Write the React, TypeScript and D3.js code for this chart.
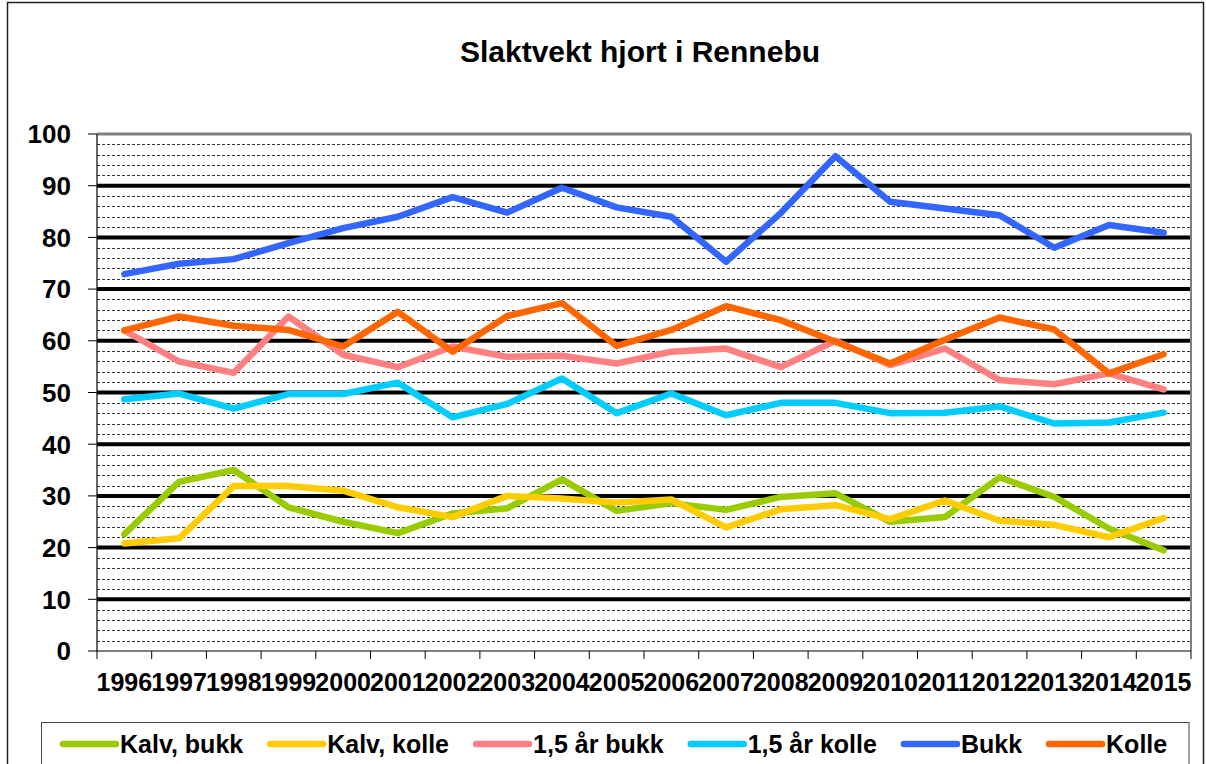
import { useEffect, useRef } from "react";
import * as d3 from "d3";

const years = [
  "1996", "1997", "1998", "1999", "2000", "2001", "2002", "2003", "2004", "2005",
  "2006", "2007", "2008", "2009", "2010", "2011", "2012", "2013", "2014", "2015",
];

const kalvBukk = [22.6, 32.7, 35, 27.8, 25, 22.8, 26.6, 27.6, 33.2, 27.1, 28.6, 27.3, 29.8, 30.5, 25, 25.9, 33.6, 29.8, 23.7, 19.5];
const kalvKolle = [20.8, 21.8, 31.9, 31.9, 31, 27.8, 25.9, 30, 29.5, 28.7, 29.3, 23.9, 27.4, 28.2, 25.5, 29.1, 25.2, 24.4, 22, 25.7];
const aarBukk = [62, 56, 53.8, 64.7, 57.3, 54.9, 58.9, 56.9, 57.1, 55.6, 57.9, 58.5, 54.9, 60, 55.3, 58.5, 52.4, 51.6, 53.7, 50.6];
const aarKolle = [48.7, 49.8, 46.9, 49.7, 49.7, 51.9, 45.2, 47.8, 52.7, 46, 49.8, 45.6, 48, 48, 46, 46.1, 47.3, 44, 44.2, 46.1];
const bukk = [72.9, 74.9, 75.8, 78.9, 81.8, 84, 87.8, 84.8, 89.6, 85.8, 84, 75.3, 84.7, 95.7, 86.9, 85.6, 84.3, 78, 82.4, 80.9];
const kolle = [62, 64.7, 62.9, 62.1, 58.9, 65.6, 57.9, 64.8, 67.3, 59, 62.1, 66.7, 64, 59.8, 55.6, 60.2, 64.5, 62.2, 53.7, 57.4];

const seriesNames = ["Kalv, bukk", "Kalv, kolle", "1,5 år bukk", "1,5 år kolle", "Bukk", "Kolle"];
const seriesColors = ["#99CC00", "#FFCC00", "#FF8080", "#00CCFF", "#3366FF", "#FF6600"];
const seriesValues = [kalvBukk, kalvKolle, aarBukk, aarKolle, bukk, kolle];

const majorTicks = [0, 10, 20, 30, 40, 50, 60, 70, 80, 90, 100];
const minorTicks = d3.range(2, 100, 2).filter((v) => v % 10 !== 0);

const W = 1206;
const H = 764;
const FONT = "Liberation Sans, Arial, sans-serif";

export default function App() {
  const hostRef = useRef<SVGSVGElement | null>(null);

  useEffect(() => {
    if (!hostRef.current) return;
    const svg = d3.select(hostRef.current);
    svg.selectAll("*").remove();

    const left = 97;
    const right = 1191;
    const top = 134;
    const bottom = 651;

    const x = d3.scaleBand<string>().domain(years).range([left, right]).padding(0);
    const y = d3.scaleLinear().domain([0, 100]).range([bottom, top]);
    const cx = (d: string) => (x(d) ?? 0) + x.bandwidth() / 2;

    // chart frame
    svg
      .append("rect")
      .attr("x", 7.5)
      .attr("y", 2.5)
      .attr("width", W - 10)
      .attr("height", H)
      .attr("fill", "#fff")
      .attr("stroke", "#222")
      .attr("stroke-width", 1.5);

    svg
      .append("text")
      .attr("x", 640)
      .attr("y", 62)
      .attr("text-anchor", "middle")
      .attr("font-family", FONT)
      .attr("font-weight", "bold")
      .attr("font-size", 30)
      .attr("fill", "#000")
      .text("Slaktvekt hjort i Rennebu");

    // minor dashed gridlines
    svg
      .append("g")
      .selectAll("line")
      .data(minorTicks)
      .join("line")
      .attr("x1", left)
      .attr("x2", right)
      .attr("y1", (d) => Math.round(y(d)) + 0.5)
      .attr("y2", (d) => Math.round(y(d)) + 0.5)
      .attr("stroke", "#333")
      .attr("stroke-width", 1)
      .attr("stroke-dasharray", "3,2");

    // major gridlines
    svg
      .append("g")
      .selectAll("line")
      .data(majorTicks.filter((v) => v > 0 && v < 100))
      .join("line")
      .attr("x1", left)
      .attr("x2", right)
      .attr("y1", (d) => y(d))
      .attr("y2", (d) => y(d))
      .attr("stroke", "#000")
      .attr("stroke-width", 4);

    // plot border: top and right grey
    svg
      .append("line")
      .attr("x1", left)
      .attr("x2", right)
      .attr("y1", y(100))
      .attr("y2", y(100))
      .attr("stroke", "#808080")
      .attr("stroke-width", 3);
    svg
      .append("line")
      .attr("x1", right)
      .attr("x2", right)
      .attr("y1", y(100))
      .attr("y2", bottom)
      .attr("stroke", "#808080")
      .attr("stroke-width", 2);

    // y axis
    const yAxis = svg.append("g");
    yAxis
      .append("line")
      .attr("x1", left)
      .attr("x2", left)
      .attr("y1", y(100))
      .attr("y2", bottom)
      .attr("stroke", "#000")
      .attr("stroke-width", 1.2);
    yAxis
      .selectAll("line.tick")
      .data(majorTicks)
      .join("line")
      .attr("class", "tick")
      .attr("x1", left - 9)
      .attr("x2", left)
      .attr("y1", (d) => y(d))
      .attr("y2", (d) => y(d))
      .attr("stroke", "#000")
      .attr("stroke-width", 1);
    yAxis
      .selectAll("text")
      .data(majorTicks)
      .join("text")
      .attr("x", 71)
      .attr("y", (d) => y(d))
      .attr("dy", "0.36em")
      .attr("text-anchor", "end")
      .attr("font-family", FONT)
      .attr("font-weight", "bold")
      .attr("font-size", 26)
      .attr("fill", "#000")
      .text((d) => d);

    // x axis
    const xAxis = svg.append("g");
    xAxis
      .append("line")
      .attr("x1", left)
      .attr("x2", right)
      .attr("y1", bottom)
      .attr("y2", bottom)
      .attr("stroke", "#000")
      .attr("stroke-width", 1.2);
    const boundaries = years.map((d) => x(d) ?? 0).concat([right]);
    xAxis
      .selectAll("line.tick")
      .data(boundaries)
      .join("line")
      .attr("class", "tick")
      .attr("x1", (d) => d)
      .attr("x2", (d) => d)
      .attr("y1", bottom)
      .attr("y2", bottom + 8)
      .attr("stroke", "#000")
      .attr("stroke-width", 1);
    xAxis
      .selectAll("text")
      .data(years)
      .join("text")
      .attr("x", (d) => cx(d))
      .attr("y", 691)
      .attr("text-anchor", "middle")
      .attr("font-family", FONT)
      .attr("font-weight", "bold")
      .attr("font-size", 25)
      .attr("fill", "#000")
      .text((d) => d);

    // series lines
    const line = d3
      .line<number>()
      .x((_, i) => cx(years[i]))
      .y((v) => y(v));

    svg
      .append("g")
      .selectAll("path")
      .data(seriesValues)
      .join("path")
      .attr("d", (d) => line(d))
      .attr("fill", "none")
      .attr("stroke", (_, i) => seriesColors[i])
      .attr("stroke-width", 6.5)
      .attr("stroke-linejoin", "round")
      .attr("stroke-linecap", "round");

    // legend
    const legend = svg.append("g");
    legend
      .append("rect")
      .attr("x", 41.5)
      .attr("y", 722.5)
      .attr("width", 1189 - 41.5)
      .attr("height", 60)
      .attr("fill", "#fff")
      .attr("stroke", "#444")
      .attr("stroke-width", 1);

    let lx = 63;
    const ly = 744;
    seriesNames.forEach((name, i) => {
      legend
        .append("line")
        .attr("x1", lx)
        .attr("x2", lx + 53)
        .attr("y1", ly)
        .attr("y2", ly)
        .attr("stroke", seriesColors[i])
        .attr("stroke-width", 6.5)
        .attr("stroke-linecap", "round");
      const t = legend
        .append("text")
        .attr("x", lx + 57)
        .attr("y", ly)
        .attr("dy", "0.36em")
        .attr("font-family", FONT)
        .attr("font-weight", "bold")
        .attr("font-size", 25)
        .attr("fill", "#000")
        .text(name);
      const w = (t.node() as SVGTextElement).getComputedTextLength();
      lx = lx + 57 + w + 27;
    });
  }, []);

  return (
    <svg
      ref={hostRef}
      width={W}
      height={H}
      viewBox={`0 0 ${W} ${H}`}
      style={{ position: "absolute", left: 0, top: 0, display: "block", background: "#fff" }}
    />
  );
}
